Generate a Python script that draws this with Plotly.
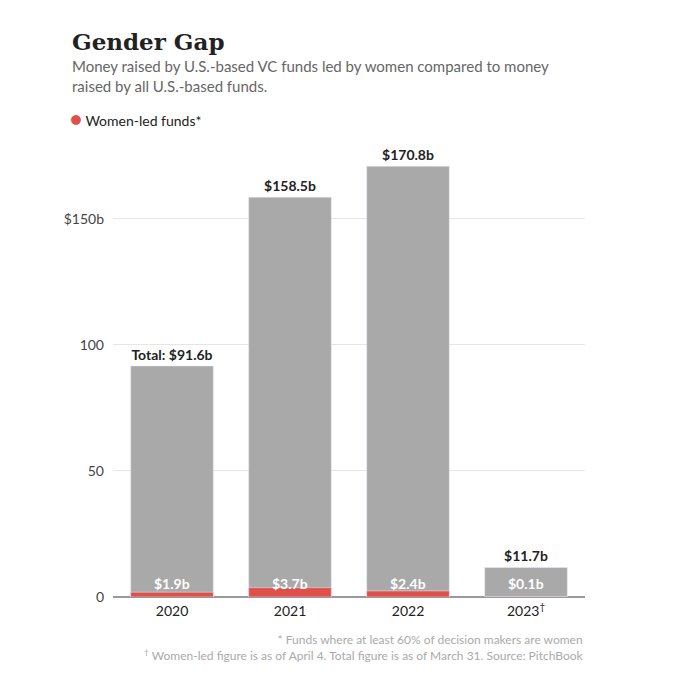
import plotly.graph_objects as go

years = ["2020", "2021", "2022", "2023<sup>†</sup>"]
totals = [91.6, 158.5, 170.8, 11.7]
women = [1.9, 3.7, 2.4, 0.1]
total_labels = ["Total: $91.6b", "$158.5b", "$170.8b", "$11.7b"]
women_labels = ["$1.9b", "$3.7b", "$2.4b", "$0.1b"]
tick_vals = [0, 50, 100, 150]
tick_text = ["0", "50", "100", "$150b"]

GRAY = "#a9a9a9"
RED = "#e0504a"

# plot area in pixels (page has an 8px body margin, compensated)
L, R, T, B = 105, 103, 135, 91
PH = 680 - T - B
PW = 680 - L - R


def py(p):  # window pixel y -> paper y
    return ((680 - B) - (p - 8)) / PH


def px(p):
    return ((p - 8) - L) / PW


fig = go.Figure()
fig.add_trace(go.Bar(
    x=years, y=totals, marker_color=GRAY, width=0.7,
    text=[f"<b>{t}</b>" for t in total_labels], textposition="outside",
    textfont=dict(family="Lato", size=14, color="#222"),
    cliponaxis=False, showlegend=False, hoverinfo="skip",
))
fig.add_trace(go.Bar(
    x=years, y=women, marker_color=RED, width=0.7,
    showlegend=False, hoverinfo="skip",
))

for i, t in enumerate(women_labels):
    fig.add_annotation(x=i, y=0, xref="x", yref="y", text=f"<b>{t}</b>", showarrow=False,
                       yanchor="bottom", yshift=3,
                       font=dict(family="Lato", size=14, color="white"))

fig.add_annotation(xref="paper", yref="paper", x=px(70), y=py(26), xanchor="left", yanchor="top",
                   text="<b>Gender Gap</b>", showarrow=False,
                   font=dict(family="DejaVu Serif", size=23, color="#222"))
fig.add_annotation(xref="paper", yref="paper", x=px(70), y=py(55), xanchor="left", yanchor="top",
                   text="Money raised by U.S.-based VC funds led by women compared to money<br>raised by all U.S.-based funds.",
                   showarrow=False, align="left",
                   font=dict(family="Lato", size=15, color="#666"))
fig.add_annotation(xref="paper", yref="paper", x=px(68), y=py(118), xanchor="left", yanchor="middle",
                   text=f"<span style='color:{RED};font-size:20px'>●</span> Women-led funds*",
                   showarrow=False, align="left",
                   font=dict(family="Lato", size=14, color="#222"))
fig.add_annotation(xref="paper", yref="paper", x=px(585), y=py(630), xanchor="right", yanchor="top",
                   text="* Funds where at least 60% of decision makers are women<br><sup>†</sup> Women-led figure is as of April 4. Total figure is as of March 31. Source: PitchBook",
                   showarrow=False, align="right",
                   font=dict(family="Lato", size=12, color="#aaa"))

fig.update_layout(
    width=680, height=680,
    barmode="overlay",
    plot_bgcolor="white", paper_bgcolor="white",
    margin=dict(l=L, r=R, t=T, b=B),
    font=dict(family="Lato", color="#333"),
    xaxis=dict(type="category", range=[-0.5, len(years) - 0.5], showgrid=False, showline=False,
               ticks="", tickfont=dict(size=14, color="#222"), ticklabelstandoff=4),
    yaxis=dict(range=[0, 180], tickvals=tick_vals, ticktext=tick_text,
               showgrid=True, gridcolor="#e6e6e6", gridwidth=1,
               zeroline=True, zerolinecolor="#999", zerolinewidth=1.5,
               tickfont=dict(size=14, color="#444"), ticklabelstandoff=8),
)

fig.write_html("out.html")
